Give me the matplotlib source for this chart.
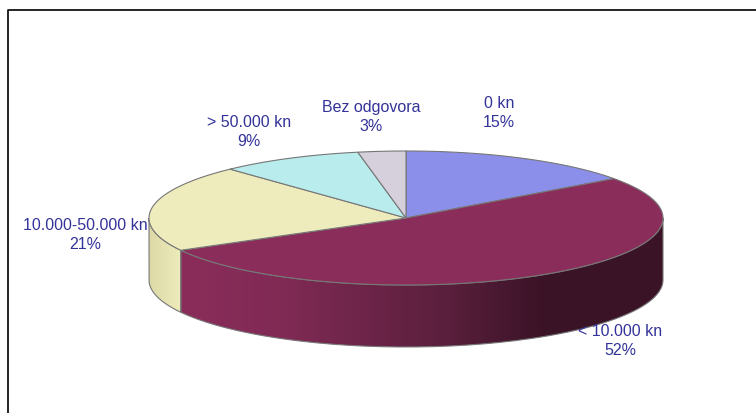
import numpy as np
import matplotlib
matplotlib.use("Agg")
import matplotlib.pyplot as plt
from matplotlib.patches import PathPatch, Polygon
from matplotlib.path import Path
from matplotlib.colors import LinearSegmentedColormap

plt.rcParams['font.family'] = ['Liberation Sans', 'DejaVu Sans']

# chart data
labels = ["0 kn", "< 10.000 kn", "10.000-50.000 kn", "> 50.000 kn", "Bez odgovora"]
percents = [15, 52, 21, 9, 3]
colors = ["#8c8fea", "#8b2d5a", "#eeecbc", "#b9ecec", "#d5d0dc"]

# pie geometry, in image pixels
cx, cy = 406, 219
rx, ry = 257, 67
depth = 62
edge = "#777777"
text_col = "#33339a"
label_pos = [(499, 113), (620, 341), (85, 235), (249, 132), (371, 117)]


def arc(a0, a1, n=120):
    # angles are clockwise from the top of the ellipse
    t = np.radians(np.linspace(a0, a1, n))
    return np.column_stack([cx + rx * np.sin(t), cy - ry * np.cos(t)])


def draw_wall(a0, a1, cmap):
    # the side of a slice, filled with a left to right shading
    top = arc(a0, a1)
    bottom = top[::-1] + [0, depth]
    pts = np.vstack([top, bottom])
    patch = PathPatch(Path(np.vstack([pts, pts[0]])), fc="none", ec=edge, lw=0.8, zorder=3)
    ax.add_patch(patch)
    x0, x1 = pts[:, 0].min(), pts[:, 0].max()
    grad = np.linspace(0, 1, 256).reshape(1, -1)
    im = ax.imshow(grad, cmap=cmap, extent=(x0, x1, pts[:, 1].max(), pts[:, 1].min()),
                   aspect="auto", zorder=2)
    im.set_clip_path(patch)


fig = plt.figure(figsize=(7.56, 4.14), dpi=100)
ax = fig.add_axes([0, 0, 1, 1])

maroon_side = LinearSegmentedColormap.from_list("maroon_side", [(0, "#8b2d5a"), (0.22, "#7f2a54"), (0.55, "#5a1f3c"), (0.75, "#3b1327"), (1, "#3b1327")])
yellow_side = LinearSegmentedColormap.from_list("yellow_side", ["#dcd9a6", "#eeecbc"])

ends = np.cumsum(percents) * 3.6
starts = np.concatenate([[0], ends[:-1]])

# only the 2 front slices show a wall
draw_wall(starts[2], 270, yellow_side)
draw_wall(90, starts[2], maroon_side)

for a0, a1, col in zip(starts, ends, colors):
    pts = np.vstack([[cx, cy], arc(a0, a1)])
    ax.add_patch(Polygon(pts, closed=True, fc=col, ec=edge, lw=0.8, zorder=4))

for lab, pct, (x, y) in zip(labels, percents, label_pos):
    ax.text(x, y, "%s\n%d%%" % (lab, pct), color=text_col, fontsize=11.5, ha="center",
            va="center", linespacing=1.3, zorder=5)

# frame round the chart, open on the right and at the bottom
ax.plot([8, 8, 756], [414, 11, 11], color="black", lw=1.2, zorder=6)

ax.set_xlim(0, 756)
ax.set_ylim(414, 0)
ax.axis("off")
fig.savefig("out.png", dpi=100)
